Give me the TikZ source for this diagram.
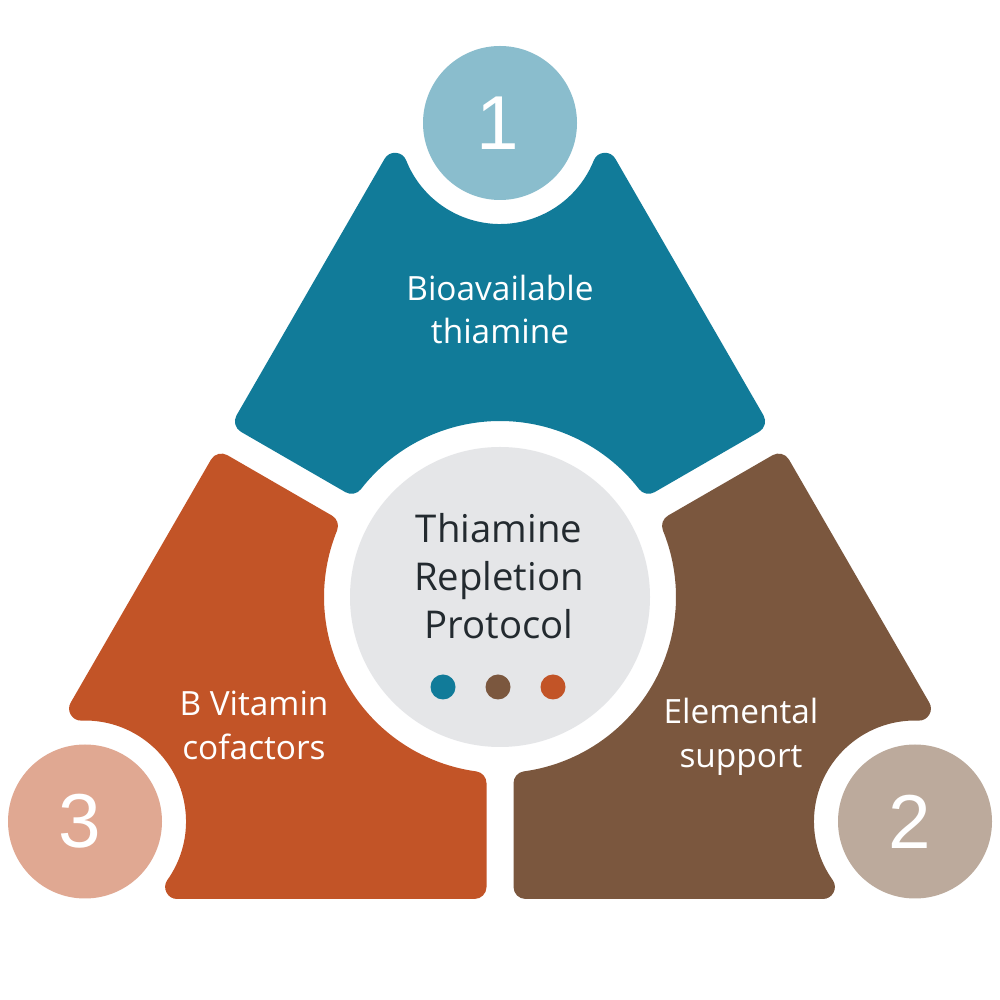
\documentclass[tikz,border=0pt]{standalone}
\usepackage{fontspec}
\setmainfont{Open Sans}
\newfontfamily\numfont{Liberation Sans}
\definecolor{segA}{HTML}{117B99}
\definecolor{segB}{HTML}{7B573E}
\definecolor{segC}{HTML}{C25427}
\definecolor{numA}{HTML}{8ABDCD}
\definecolor{numB}{HTML}{BCAA9C}
\definecolor{numC}{HTML}{E0A892}
\definecolor{hubfill}{HTML}{E5E6E8}
\definecolor{hubtextc}{HTML}{232A2F}
\begin{document}
\begin{tikzpicture}[x=0.2mm,y=0.2mm,
  seg/.style={line width=4.8mm,line join=round},
  lab/.style={text=white,align=center,inner sep=0pt,font=\fontsize{19}{24.9}\selectfont},
  hubtext/.style={text=hubtextc,align=center,inner sep=0pt,font=\fontsize{21.8}{27.5}\selectfont},
  num/.style={text=white,inner sep=0pt,font=\numfont\fontsize{43.5}{50}\selectfont}]
\useasboundingbox (0,0) rectangle (1000,1000);
\fill[white] (0,0) rectangle (1000,1000);
\coordinate (C) at (500,403);
\coordinate (N1) at (500,877);
\coordinate (N2) at (915,178.5);
\coordinate (N3) at (85,178.5);
% top segment
\filldraw[seg,fill=segA,draw=segA] (246.9,578.6) -- (395.0,835.2)
  arc[start angle=201.7,end angle=338.3,radius=113] -- (753.1,578.6) -- (648.55,518.21)
  arc[start angle=37.8,end angle=142.2,radius=188] -- cycle;
% left segment
\filldraw[seg,fill=segC,draw=segC] (221.4,534.4) -- (81.1,291.4)
  arc[start angle=92.0,end angle=-35.4,radius=113] -- (474.5,113) -- (474.5,216.74)
  arc[start angle=262.2,end angle=157.8,radius=188] -- cycle;
% right segment
\filldraw[seg,fill=segB,draw=segB] (778.6,534.4) -- (918.9,291.4)
  arc[start angle=88.0,end angle=215.4,radius=113] -- (525.5,113) -- (525.5,216.74)
  arc[start angle=-82.2,end angle=22.2,radius=188] -- cycle;
% hub
\fill[hubfill] (C) circle[radius=150];
\node[hubtext] (hub) at (499,424) {Thiamine\\Repletion\\Protocol};
\fill[segA] (443,313) circle[radius=12.5];
\fill[segB] (498,313) circle[radius=12.5];
\fill[segC] (553,313) circle[radius=12.5];
% number circles
\fill[numA] (N1) circle[radius=77];
\fill[numB] (N2) circle[radius=77];
\fill[numC] (N3) circle[radius=77];
\node[num] (n1) at ([xshift=-0.4mm]N1) {1};
\node[num] (n2) at ([xshift=-1mm]N2) {2};
\node[num] (n3) at ([xshift=-1mm]N3) {3};
% labels
\node[lab] (t1) at (500,690.5) {Bioavailable\\thiamine};
\node[lab] (t3) at (254,274.5) {B Vitamin\\cofactors};
\node[lab] (t2) at (741,263.5) {Elemental\\support};
\end{tikzpicture}
\end{document}
